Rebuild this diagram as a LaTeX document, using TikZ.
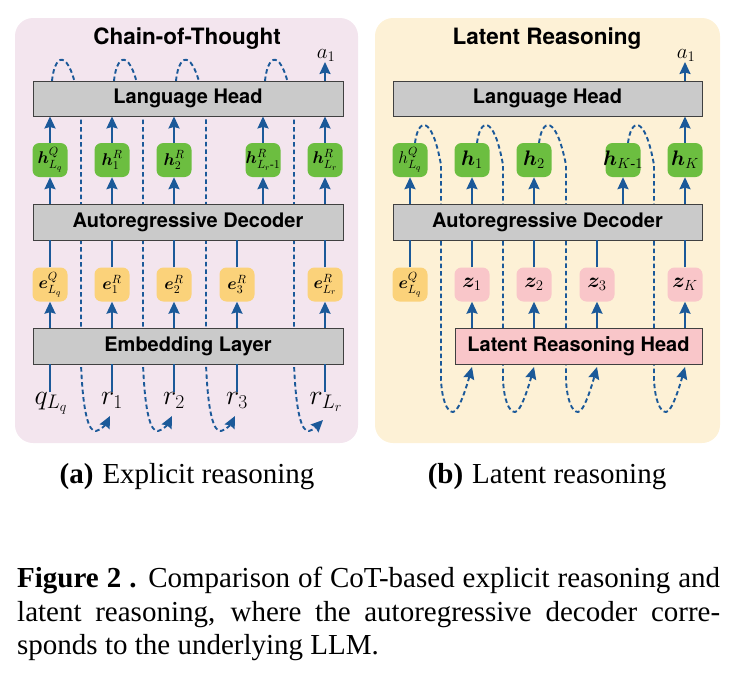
\RequirePackage{fix-cm}
\documentclass[tikz,border=0pt]{standalone}
\usepackage{amsmath,bm}
\usepackage[no-math]{fontspec}
\setmainfont{Liberation Serif}
\newfontfamily\hv{TeX Gyre Heros}
\usetikzlibrary{arrows.meta}
\definecolor{bgL}{RGB}{243,229,238}
\definecolor{bgR}{RGB}{253,241,214}
\definecolor{gn}{RGB}{108,190,64}
\definecolor{og}{RGB}{251,210,122}
\definecolor{pk}{RGB}{249,198,201}
\definecolor{gy}{RGB}{202,202,202}
\definecolor{bl}{RGB}{27,89,153}
\tikzset{
  gbox/.style={draw=black!75, line width=0.9pt, fill=gy, font=\hv\bfseries\fontsize{20}{22}\selectfont, minimum height=35pt, inner sep=0pt},
  pbox/.style={gbox, fill=pk},
  tok/.style={rounded corners=7pt, minimum width=35pt, minimum height=34pt, inner sep=0pt, font=\fontsize{17}{19}\selectfont},
  hn/.style={tok, fill=gn},
  en/.style={tok, fill=og},
  zn/.style={tok, fill=pk, font=\fontsize{21}{23}\selectfont},
  hbig/.style={hn, font=\fontsize{21}{23}\selectfont},
  ttl/.style={font=\hv\bfseries\fontsize{22.5}{25}\selectfont, inner sep=0pt},
  inp/.style={anchor=north, inner sep=0pt, font=\fontsize{28}{30}\selectfont},
  alab/.style={anchor=south, inner sep=0pt, font=\fontsize{21}{23}\selectfont},
  arr/.style={draw=bl, line width=1.9pt, -{Stealth[length=12pt,width=11pt,inset=1.5pt]}},
  ln/.style={draw=bl, line width=1.9pt},
  dsh/.style={draw=bl, line width=1.9pt, dash pattern=on 4.5pt off 3pt, -{Stealth[length=12pt,width=11pt,inset=1.5pt]}},
}
\begin{document}
\begin{tikzpicture}[x=1pt,y=-1pt]
\useasboundingbox (0,0) rectangle (741,680);
\fill[bgL, rounded corners=18pt] (15,18) rectangle (358,443);
\fill[bgR, rounded corners=18pt] (375,18) rectangle (720,443);

% ---------- left: dashed feedback loops ----------
\foreach \c/\d/\t/\ty in {50/81/112/416, 112/143/174/416, 174/206/237/416, 263/294/325/420} {
  \draw[dsh] (\c+2,81) .. controls (\c+5,50) and (\c+22,46) .. (\d,116) -- (\d,364)
     .. controls (\d+2,415) and (\d+8,432) .. (\d+15,431)
     .. controls (\d+20,430) and (\d+25,424) .. (\t-2,\ty);
}
% ---------- right: dashed feedback loops ----------
\foreach \c/\d/\t in {410/441/472, 472/503/534, 534/566/597, 623/654/685} {
  \draw[dsh] (\c+5,143) .. controls (\c+8,118) and (\c+22,114) .. (\d,165) -- (\d,380)
     .. controls (\d+1,400) and (\d+6,412) .. (\d+12,412)
     .. controls (\d+18,412) and (\d+26,385) .. (\t,367);
}

% ---------- left panel ----------
\node[ttl] (tL) at (187,39) {Chain-of-Thought};
\node[gbox, minimum width=310pt] (lhL) at (188,98.5) {Language Head};
\node[gbox, minimum width=310pt, minimum height=36pt] (decL) at (188,222) {Autoregressive Decoder};
\node[gbox, minimum width=310pt, minimum height=36pt] (embL) at (188,346) {Embedding Layer};

\node[hn] (hL0) at (50,160) {$\bm{h}^{Q}_{L_q}$};
\node[hn] (hL1) at (112,160) {$\bm{h}^{R}_{1}$};
\node[hn] (hL2) at (174,160) {$\bm{h}^{R}_{2}$};
\node[hn] (hL3) at (263,160) {\makebox[0pt]{$\bm{h}^{R}_{L_r\text{-}1}$}};
\node[hn] (hL4) at (325,160) {$\bm{h}^{R}_{L_r}$};

\node[en] (eL0) at (50,284.5) {$\bm{e}^{Q}_{L_q}$};
\node[en] (eL1) at (112,284.5) {$\bm{e}^{R}_{1}$};
\node[en] (eL2) at (174,284.5) {$\bm{e}^{R}_{2}$};
\node[en] (eL3) at (237,284.5) {$\bm{e}^{R}_{3}$};
\node[en] (eL4) at (325,284.5) {$\bm{e}^{R}_{L_r}$};

\node[inp] (iL0) at (51,392) {$q_{L_q}$};
\node[inp] (iL1) at (112,392) {$r_1$};
\node[inp] (iL2) at (174,392) {$r_2$};
\node[inp] (iL3) at (237,392) {$r_3$};
\node[inp] (iL4) at (326,392) {$r_{L_r}$};

\node[alab] (aL) at (326,62) {$a_1$};

\foreach \i in {0,1,2,3,4} {
  \draw[arr] (hL\i.north) -- (hL\i.north |- lhL.south);
  \draw[arr] (hL\i.south |- decL.north) -- (hL\i.south);
  \draw[ln] (eL\i.north) -- (eL\i.north |- decL.south);
  \draw[arr] (eL\i.south |- embL.north) -- (eL\i.south);
  \draw[ln] (iL\i.north -| eL\i.south) -- (eL\i.south |- embL.south);
}
\draw[arr] (hL4.north |- lhL.north) -- (aL.south -| hL4.north);

% ---------- right panel ----------
\node[ttl] (tR) at (547,39) {Latent Reasoning};
\node[gbox, minimum width=309pt] (lhR) at (547.5,98.5) {Language Head};
\node[gbox, minimum width=309pt, minimum height=36pt] (decR) at (547.5,222) {Autoregressive Decoder};
\node[pbox, minimum width=247pt, minimum height=36pt] (lrh) at (578.5,346) {Latent Reasoning Head};

\node[hn] (hR0) at (410,160) {$h^{Q}_{L_q}$};
\node[hbig] (hR1) at (472,160) {$\bm{h}_{1}$};
\node[hbig] (hR2) at (534,160) {$\bm{h}_{2}$};
\node[hbig] (hR3) at (623,160) {\makebox[0pt]{$\bm{h}_{K\text{-}1}$}};
\node[hbig] (hR4) at (685,160) {$\bm{h}_{K}$};

\node[en] (eR0) at (410,284.5) {$\bm{e}^{Q}_{L_q}$};
\node[zn] (zR1) at (472,284.5) {$\bm{z}_{1}$};
\node[zn] (zR2) at (534,284.5) {$\bm{z}_{2}$};
\node[zn] (zR3) at (597,284.5) {$\bm{z}_{3}$};
\node[zn] (zR4) at (685,284.5) {$\bm{z}_{K}$};

\node[alab] (aR) at (686,62) {$a_1$};

\foreach \i in {0,1,2,3,4} {
  \draw[arr] (hR\i.south |- decR.north) -- (hR\i.south);
}
\draw[arr] (hR4.north) -- (hR4.north |- lhR.south);
\draw[arr] (hR4.north |- lhR.north) -- (aR.south -| hR4.north);
\draw[ln] (eR0.north) -- (eR0.north |- decR.south);
\foreach \i in {1,2,3,4} {
  \draw[ln] (zR\i.north) -- (zR\i.north |- decR.south);
  \draw[arr] (zR\i.south |- lrh.north) -- (zR\i.south);
}

% ---------- captions ----------
\node[font=\fontsize{29}{33}\selectfont, inner sep=0pt] (sa) at (187,477) {\textbf{(a)}\hspace{9pt}Explicit reasoning};
\node[font=\fontsize{29}{33}\selectfont, inner sep=0pt] (sb) at (547,477) {\textbf{(b)}\hspace{9pt}Latent reasoning};

\node[anchor=base west, inner sep=0pt, font=\fontsize{29}{33}\selectfont] (c1) at (17,587)
  {\makebox[703pt][s]{\textbf{Figure 2 .} Comparison of CoT-based explicit reasoning and}};
\node[anchor=base west, inner sep=0pt, font=\fontsize{29}{33}\selectfont] (c2) at (17,621)
  {\makebox[703pt][s]{latent reasoning, where the autoregressive decoder corre-}};
\node[anchor=base west, inner sep=0pt, font=\fontsize{29}{33}\selectfont] (c3) at (17,654)
  {sponds to the underlying LLM.};
\end{tikzpicture}
\end{document}
